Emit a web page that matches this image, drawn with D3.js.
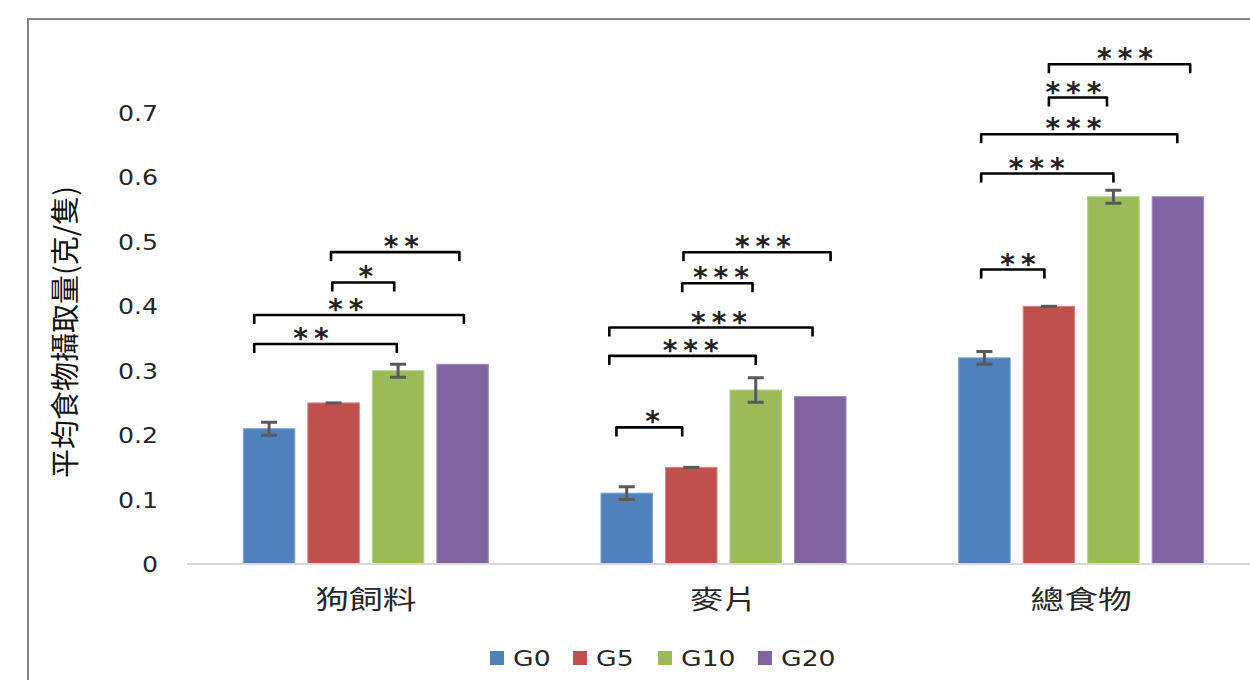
<!DOCTYPE html>
<html>
<head>
<meta charset="utf-8">
<script src="https://cdn.jsdelivr.net/npm/d3@7"></script>
<style>
  html, body { margin: 0; padding: 0; background: #fff; }
  svg { display: block; }
</style>
</head>
<body>
<svg id="chart" width="1250" height="680"></svg>
<script>
// Mean food intake per animal (g), by food type and group
const categories = ["狗飼料", "麥片", "總食物"];
const series = ["G0", "G5", "G10", "G20"];
const G0  = [0.21, 0.11, 0.32];
const G5  = [0.25, 0.15, 0.40];
const G10 = [0.30, 0.27, 0.57];
const G20 = [0.31, 0.26, 0.57];
// standard error for each bar
const G0err  = [0.010, 0.010, 0.010];
const G5err  = [0.001, 0.001, 0.001];
const G10err = [0.010, 0.019, 0.010];
const G20err = [0, 0, 0];
const yTicks = [0, 0.1, 0.2, 0.3, 0.4, 0.5, 0.6, 0.7];
const yTitle = "平均食物攝取量(克/隻)";

// significance brackets: category, span in bar-slot units (0 = G0 .. 3 = G20), level, stars
const brackets = [
  { cat: 0, from: -0.23, to: 1.98, level: 0.3415, stars: "**",  at: 0.65 },
  { cat: 0, from: -0.23, to: 3.02, level: 0.3865, stars: "**",  at: 1.19 },
  { cat: 0, from: 0.98,  to: 1.94, level: 0.437,  stars: "*",   at: 1.50 },
  { cat: 0, from: 0.96,  to: 2.95, level: 0.484,  stars: "**",  at: 2.05 },
  { cat: 1, from: -0.16, to: 0.86, level: 0.212,  stars: "*",   at: 0.40 },
  { cat: 1, from: -0.27, to: 2.00, level: 0.323,  stars: "***", at: 0.99 },
  { cat: 1, from: -0.27, to: 2.88, level: 0.367,  stars: "***", at: 1.43 },
  { cat: 1, from: 0.86,  to: 1.95, level: 0.4357, stars: "***", at: 1.46 },
  { cat: 1, from: 0.88,  to: 3.16, level: 0.4838, stars: "***", at: 2.11 },
  { cat: 2, from: -0.05, to: 0.93, level: 0.457,  stars: "**",  at: 0.52 },
  { cat: 2, from: -0.05, to: 2.00, level: 0.606,  stars: "***", at: 0.81 },
  { cat: 2, from: -0.05, to: 2.99, level: 0.667,  stars: "***", at: 1.38 },
  { cat: 2, from: 1.00,  to: 1.90, level: 0.724,  stars: "***", at: 1.38 },
  { cat: 2, from: 1.00,  to: 3.19, level: 0.7756, stars: "***", at: 2.18 }
];

const values = [G0, G5, G10, G20];
const errors = [G0err, G5err, G10err, G20err];
const colors = ["#4F81BD", "#C0504D", "#9BBB59", "#8064A2"];
const edge   = ["#7FA3D3", "#D48583", "#B6CF85", "#A08ABF"];

const svg = d3.select("#chart");
const fontLatin = "'DejaVu Sans', 'Open Sans', sans-serif";
const fontCJK = "'Noto Sans CJK TC', 'Noto Sans CJK SC', sans-serif";

// outer chart frame
svg.append("rect")
  .attr("x", 28).attr("y", 19)
  .attr("width", 1300).attr("height", 700)
  .attr("fill", "#fff")
  .attr("stroke", "#868686").attr("stroke-width", 2);

const plotLeft = 187, plotRight = 1260;
const x0 = d3.scaleBand().domain(categories).range([plotLeft, plotRight]).padding(0);
const x1 = d3.scaleBand().domain(series).range([0, x0.bandwidth()])
  .paddingInner(0.2016).paddingOuter(0.873);
const y = d3.scaleLinear().domain([0, 0.7]).range([564, 113]);

const slotX = (cat, pos) =>
  x0(categories[cat]) + x1(series[0]) + x1.bandwidth() / 2 + pos * x1.step();

// y tick labels (no axis line or tick marks)
const yAxis = d3.axisLeft(y).tickValues(yTicks).tickSize(0).tickPadding(0)
  .tickFormat(d => d === 0 ? "0" : d3.format(".1f")(d));
const gy = svg.append("g").attr("transform", "translate(158,0)").call(yAxis);
gy.select(".domain").remove();
gy.selectAll("text")
  .attr("font-family", fontLatin).attr("font-size", 21)
  .attr("fill", "#262626").attr("dy", "0.36em")
  .attr("transform", "scale(1.2,1)");

// y axis title
svg.append("text")
  .attr("transform", "translate(63,332) rotate(-90)")
  .attr("text-anchor", "middle").attr("dominant-baseline", "central")
  .attr("font-family", fontCJK).attr("font-size", 29)
  .attr("fill", "#111")
  .text(yTitle);

// bars
const groups = svg.append("g").selectAll("g")
  .data(categories)
  .join("g")
  .attr("transform", d => `translate(${x0(d)},0)`);

groups.selectAll("rect")
  .data((c, ci) => series.map((s, si) => ({ s, si, v: values[si][ci] })))
  .join("rect")
  .attr("x", d => x1(d.s))
  .attr("y", d => y(d.v))
  .attr("width", x1.bandwidth())
  .attr("height", d => y(0) - y(d.v))
  .attr("fill", d => colors[d.si])
  .attr("stroke", d => edge[d.si]).attr("stroke-width", 1);

// error bars
const errData = [];
categories.forEach((c, ci) => series.forEach((s, si) => {
  const e = errors[si][ci];
  if (e > 0) errData.push({ ci, si, v: values[si][ci], e });
}));
const eb = svg.append("g").attr("stroke", "#595959").attr("stroke-width", 3).attr("fill", "none");
eb.selectAll("path")
  .data(errData)
  .join("path")
  .attr("d", d => {
    const cx = slotX(d.ci, d.si);
    const hi = y(d.v + d.e), lo = y(d.v - d.e), w = 8;
    if (lo - hi < 3) return `M${cx - w},${y(d.v)}H${cx + w}`;
    return `M${cx - w},${hi}H${cx + w}M${cx},${hi}V${lo}M${cx - w},${lo}H${cx + w}`;
  });

// baseline
svg.append("line")
  .attr("x1", plotLeft).attr("x2", plotRight)
  .attr("y1", y(0)).attr("y2", y(0))
  .attr("stroke", "#D9D9D9").attr("stroke-width", 2);

// category labels
svg.append("g").selectAll("text")
  .data(categories)
  .join("text")
  .attr("transform", d => `translate(${x0(d) + x0.bandwidth() / 2},598) scale(1.3,1)`)
  .attr("text-anchor", "middle").attr("dominant-baseline", "central")
  .attr("font-family", fontCJK).attr("font-size", 26)
  .attr("fill", "#262626")
  .text(d => d);

// significance brackets
const bg = svg.append("g");
const tick = 9;
bg.selectAll("path")
  .data(brackets)
  .join("path")
  .attr("d", b => {
    const xa = slotX(b.cat, b.from), xb = slotX(b.cat, b.to), yy = y(b.level);
    return `M${xa},${yy + tick}V${yy}H${xb}V${yy + tick}`;
  })
  .attr("fill", "none").attr("stroke", "#000").attr("stroke-width", 2.6)
  .attr("stroke-linejoin", "round");

const starSpacing = 6;
bg.selectAll("text")
  .data(brackets)
  .join("text")
  .attr("x", b => slotX(b.cat, b.at) + starSpacing / 2)
  .attr("y", b => y(b.level) + 4)
  .attr("text-anchor", "middle")
  .attr("font-family", "'DejaVu Sans', sans-serif")
  .attr("font-size", 28)
  .attr("font-weight", "bold")
  .attr("letter-spacing", starSpacing)
  .attr("fill", "#222")
  .text(b => b.stars);

// legend
const legendX = [490, 573, 658, 758];
const lg = svg.append("g").selectAll("g")
  .data(series)
  .join("g")
  .attr("transform", (d, i) => `translate(${legendX[i]},651)`);
lg.append("rect").attr("width", 14).attr("height", 14).attr("fill", (d, i) => colors[i]);
lg.append("text")
  .attr("transform", "translate(23,8) scale(1.3,1)")
  .attr("dominant-baseline", "central")
  .attr("font-family", fontLatin).attr("font-size", 20.5)
  .attr("fill", "#262626")
  .text(d => d);
</script>
</body>
</html>
